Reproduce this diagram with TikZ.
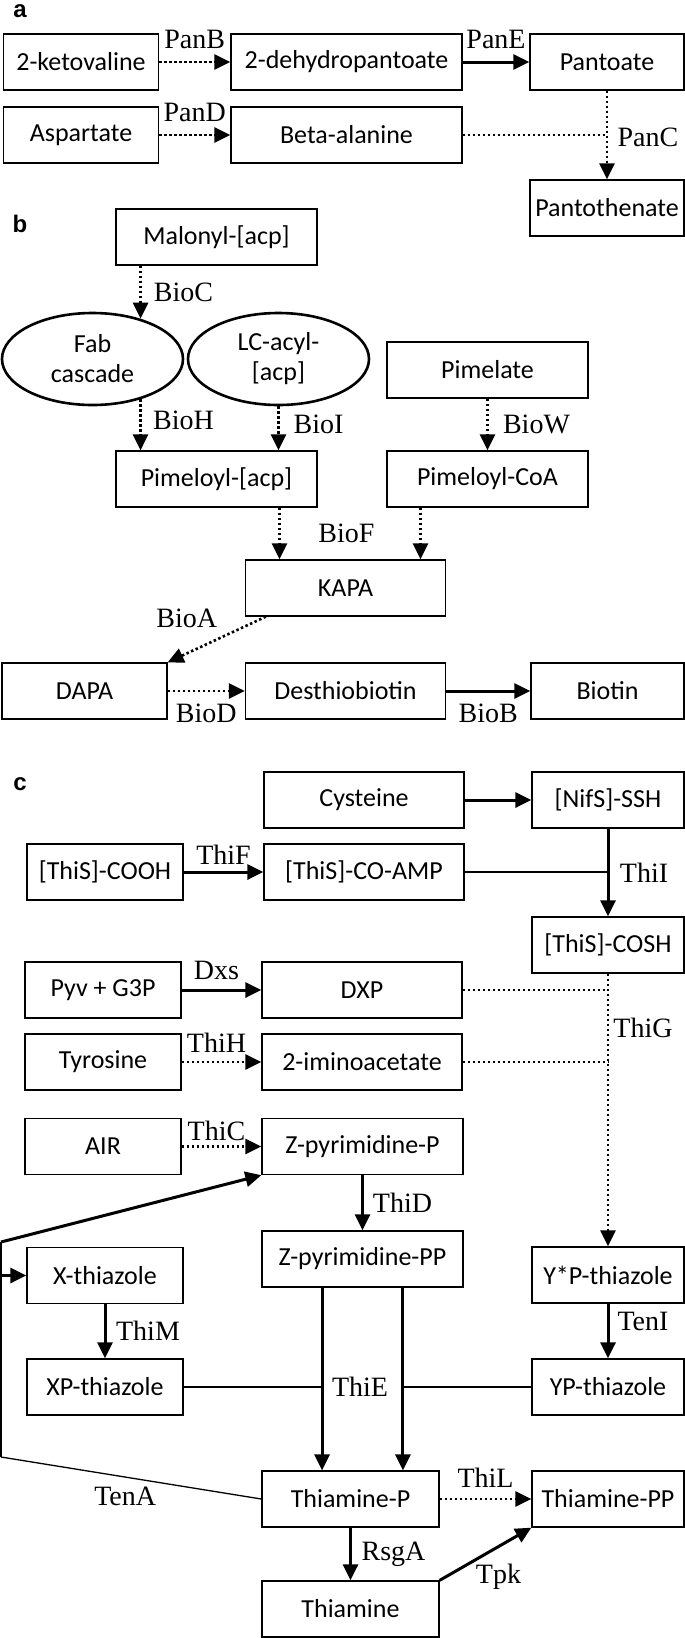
\documentclass[tikz,border=0pt]{standalone}
\usepackage{fontspec}
\newfontfamily\boxfont{Carlito}
\newfontfamily\enzfont{Liberation Serif}
\newfontfamily\panelfont{Liberation Sans}
\usetikzlibrary{arrows.meta, shapes.geometric, calc}

\begin{document}
\begin{tikzpicture}[
		x=1pt, y=-1pt,
		met/.style={draw, rectangle, line width=1.3pt, minimum width=#1, minimum height=56pt, inner sep=2pt, font=\boxfont\fontsize{26}{30}\selectfont},
		met/.default=200pt,
		pool/.style={draw, ellipse, line width=2.6pt, minimum width=181pt, minimum height=92pt, align=center, inner sep=1pt, font=\boxfont\fontsize{26}{30}\selectfont},
		enz/.style={font=\enzfont\fontsize{28}{30}\selectfont, inner sep=0pt},
		panel/.style={font=\panelfont\bfseries\fontsize{24}{26}\selectfont, inner sep=0pt},
		known/.style={-{Triangle[length=16pt, width=15pt]}, line width=3pt},
		putative/.style={-{Triangle[length=16pt, width=15pt]}, line width=2.6pt, dash pattern=on 2.5pt off 2.5pt},
		link/.style={line width=1.3pt},
		dotlink/.style={line width=2.6pt, dash pattern=on 2.5pt off 2.5pt}
		]
		\useasboundingbox (0,0) rectangle (685,1638);
		
		% a: pantothenate
		\node[panel] at (20,11) (pa) {a};
		\node[met=155pt] at (81,62) (keto) {2-ketovaline};
		\node[met=231pt] at (346.5,62) (dehydro) {2-dehydropantoate};
		\node[met=154pt] at (607,62) (pantoate) {Pantoate};
		\node[met=155pt] at (81,135) (asp) {Aspartate};
		\node[met=231pt] at (346.5,135) (betaala) {Beta-alanine};
		\node[met=154pt] at (607,208) (pantothen) {Pantothenate};
		
		\draw[putative] (keto) -- node[enz, yshift=23pt]{PanB} (dehydro);
		\draw[known] (dehydro) -- node[enz, yshift=23pt]{PanE} (pantoate);
		\draw[putative] (asp) -- node[enz, yshift=23pt]{PanD} (betaala);
		\draw[dotlink] (betaala) -- (pantoate.south |- betaala.east);
		\draw[putative] (pantoate) -- node[enz, xshift=41pt, yshift=-2pt]{PanC} (pantothen);
		
		% b: biotin
		\node[panel] at (20,224) (pb) {b};
		\node[met=201pt] at (216.5,237) (malonyl) {Malonyl-[acp]};
		\node[pool] at (92.5,359) (fab) {Fab\\cascade};
		\node[pool] at (278.5,359) (lcacyl) {LC-acyl-\\{}[acp]};
		\node[met=201pt] at (487.5,370) (pimelate) {Pimelate};
		\node[met=201pt] at (216.5,479) (pimacp) {Pimeloyl-[acp]};
		\node[met=201pt] at (487.5,479) (pimcoa) {Pimeloyl-CoA};
		\node[met=200pt] at (345.5,588) (kapa) {KAPA};
		\node[met=165pt] at (84.5,691) (dapa) {DAPA};
		\node[met=200pt] at (345.5,691) (desthio) {Desthiobiotin};
		\node[met=153pt] at (607.5,691) (biotin) {Biotin};
		
		\draw[putative] (malonyl.south -| fab.40) -- node[enz, xshift=43pt]{BioC} (fab.40);
		\draw[putative] (fab.-40) -- node[enz, xshift=43pt, yshift=4pt]{BioH} (fab.-40 |- pimacp.north);
		\draw[putative] (lcacyl) -- node[enz, xshift=40pt, yshift=4pt]{BioI} (lcacyl |- pimacp.north);
		\draw[putative] (pimelate) -- node[enz, xshift=49pt]{BioW} (pimcoa);
		\coordinate (bfl) at ([xshift=63pt]pimacp.south);
		\coordinate (bfr) at ([xshift=-67pt]pimcoa.south);
		\draw[putative] (bfl) -- node[enz, xshift=67pt]{BioF} (bfl |- kapa.north);
		\draw[putative] (bfr) -- (bfr |- kapa.north);
		\draw[putative] ([xshift=21pt]kapa.south west) -- node[enz, xshift=-30pt, yshift=21pt]{BioA} (dapa.north east);
		\draw[putative] (dapa) -- node[enz, yshift=-22pt]{BioD} (desthio);
		\draw[known] (desthio) -- node[enz, yshift=-22pt]{BioB} (biotin);
		
		% c: thiamine
		\node[panel] at (20,784) (pc) {c};
		\node[met=200pt] at (364,800) (cysteine) {Cysteine};
		\node[met=152pt] at (608,800) (nifs) {[NifS]-SSH};
		\node[met=156pt] at (105,872) (thiscooh) {[ThiS]-COOH};
		\node[met=200pt] at (364,872) (thiscoamp) {[ThiS]-CO-AMP};
		\node[met=152pt] at (608,945) (thiscosh) {[ThiS]-COSH};
		\node[met=156pt] at (103,990) (pyv) {Pyv + G3P};
		\node[met=200pt] at (362,990) (dxp) {DXP};
		\node[met=156pt] at (103,1062) (tyrosine) {Tyrosine};
		\node[met=200pt] at (362,1062) (imino) {2-iminoacetate};
		\node[met=156pt] at (103,1146.5) (air) {AIR};
		\node[met=201pt] at (362.5,1146.5) (zpyrp) {Z-pyrimidine-P};
		\node[met=201pt] at (362.5,1259) (zpyrpp) {Z-pyrimidine-PP};
		\node[met=156pt] at (105,1275.5) (xthia) {X-thiazole};
		\node[met=152pt] at (608,1275) (ystarp) {Y*P-thiazole};
		\node[met=156pt] at (105,1387) (xpthia) {XP-thiazole};
		\node[met=152pt] at (608,1387) (ypthia) {YP-thiazole};
		\node[met=177pt] at (350.5,1499) (thiap) {Thiamine-P};
		\node[met=152pt] at (608,1499) (thiapp) {Thiamine-PP};
		\node[met=177pt] at (350.5,1609) (thiamine) {Thiamine};
		
		\draw[known] (cysteine) -- (nifs);
		\draw[known] (thiscooh) -- node[enz, yshift=17pt]{ThiF} (thiscoamp);
		\draw[link] (thiscoamp) -- (nifs.south |- thiscoamp.east);
		\draw[known] (nifs) -- node[enz, xshift=36pt]{ThiI} (thiscosh);
		\draw[known] (pyv) -- node[enz, xshift=-5pt, yshift=20pt]{Dxs} (dxp);
		\draw[dotlink] (dxp) -- (thiscosh.south |- dxp.east);
		\draw[putative] (tyrosine) -- node[enz, xshift=-5pt, yshift=19pt]{ThiH} (imino);
		\draw[dotlink] (imino) -- (thiscosh.south |- imino.east);
		\draw[putative] (thiscosh) -- node[enz, pos=0.2, xshift=35pt]{ThiG} (ystarp);
		\draw[putative] (air) -- node[enz, xshift=-5pt, yshift=16pt]{ThiC} (zpyrp);
		\draw[known] (zpyrp) -- node[enz, xshift=40pt]{ThiD} (zpyrpp);
		\draw[known] (xthia) -- node[enz, xshift=43pt]{ThiM} (xpthia);
		\draw[known] (ystarp) -- node[enz, xshift=35pt, yshift=10pt]{TenI} (ypthia);
		
		% ThiE joins both halves
		\coordinate (tel) at ($(zpyrpp.south west)!0.3!(zpyrpp.south east)$);
		\coordinate (ter) at ($(zpyrpp.south west)!0.7!(zpyrpp.south east)$);
		\draw[known] (tel) -- node[enz, xshift=38pt, yshift=-8pt]{ThiE} (tel |- thiap.north);
		\draw[known] (ter) -- (ter |- thiap.north);
		\draw[link] (xpthia) -- (tel |- xpthia.east);
		\draw[link] (ter |- ypthia.west) -- (ypthia);
		
		\draw[putative] (thiap) -- node[enz, yshift=21pt]{ThiL} (thiapp);
		\draw[known] (thiap) -- node[enz, xshift=43pt]{RsgA} (thiamine);
		\draw[known] (thiamine.north east) -- node[enz, xshift=13pt, yshift=-23pt]{Tpk} (thiapp.south west);
		
		% TenA salvage
		\coordinate (tenalow) at (1,1457);
		\coordinate (tenahigh) at (1,1242);
		\draw[link] (thiap.west) -- node[enz, xshift=-6pt, yshift=-18pt]{TenA} (tenalow);
		\draw[line width=2.6pt] (tenalow) -- (tenahigh);
		\draw[known] (tenahigh) -- (zpyrp.south west);
		\draw[known] (tenahigh |- xthia.west) -- (xthia.west);
		
	\end{tikzpicture}
\end{document}
